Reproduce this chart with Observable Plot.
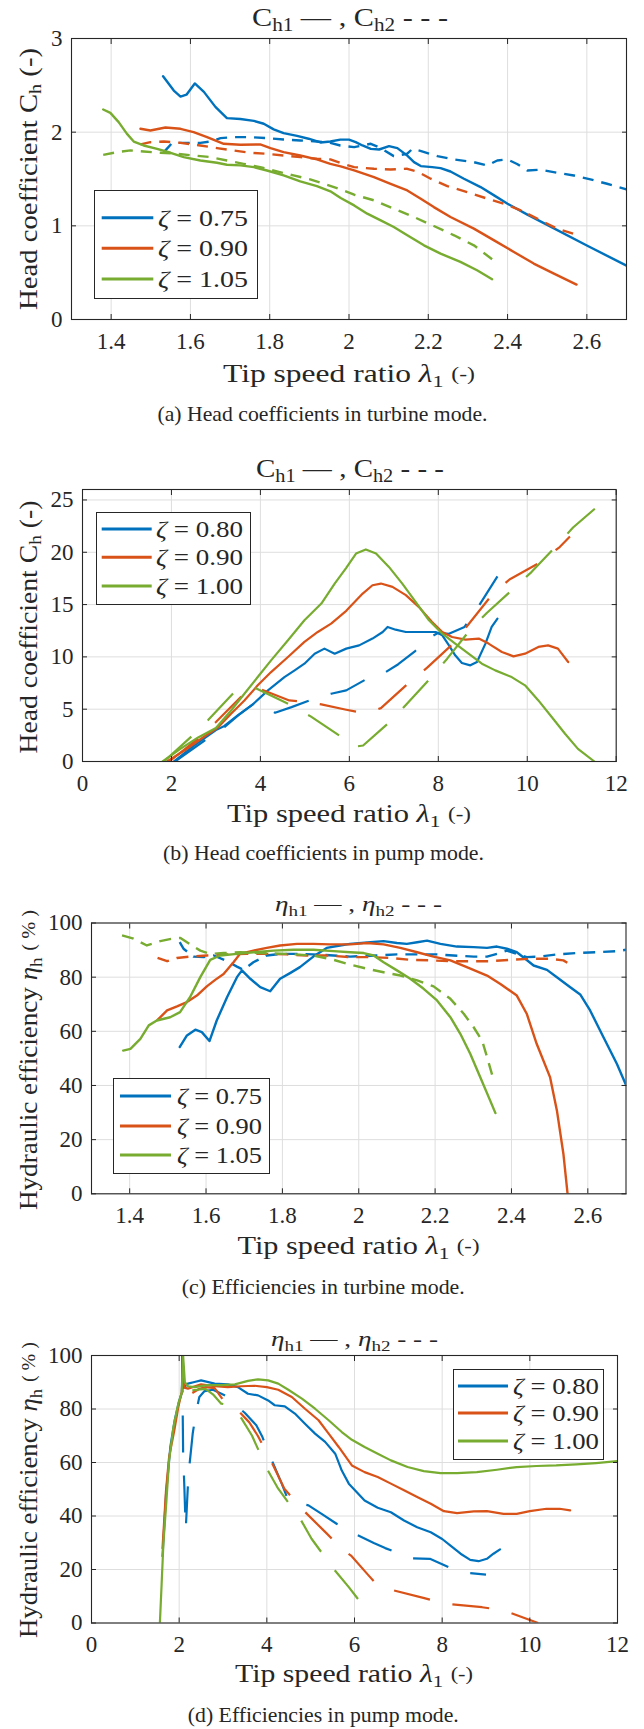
<!DOCTYPE html>
<html><head><meta charset="utf-8">
<script src="https://cdn.jsdelivr.net/npm/d3@7"></script>
<script src="https://cdn.jsdelivr.net/npm/@observablehq/plot@0.6"></script>
<style>
body{margin:0;background:#fff;}
#root{position:relative;width:644px;height:1729px;overflow:hidden;background:#fff;}
.panel{position:absolute;left:0;}
</style></head>
<body><div id="root"></div>
<script>
// ---------- colours ----------
const BLUE = "#0072BD", ORANGE = "#D95319", GREEN = "#77AC30";

// ---------- (a) head coefficients, turbine mode ----------
const aTicksX = [1.4, 1.6, 1.8, 2, 2.2, 2.4, 2.6];
const aTicksY = [0, 1, 2, 3];
const aLegend = ["0.75", "0.90", "1.05"];
const aH1_075 = [[1.531,2.597],[1.558,2.444],[1.575,2.38],[1.59,2.40],[1.611,2.52],[1.634,2.43],[1.663,2.27],[1.692,2.15],[1.726,2.14],[1.76,2.12],[1.785,2.09],[1.81,2.03],[1.835,1.99],[1.869,1.96],[1.898,1.93],[1.928,1.89],[1.953,1.90],[1.978,1.92],[2.0,1.92],[2.017,1.894],[2.034,1.858],[2.055,1.822],[2.076,1.815],[2.101,1.851],[2.122,1.83],[2.147,1.75],[2.164,1.68],[2.181,1.638],[2.21,1.627],[2.231,1.616],[2.256,1.58],[2.29,1.503],[2.332,1.414],[2.366,1.325],[2.4,1.236],[2.45,1.12],[2.5,1.01],[2.6,0.79],[2.7,0.575]];
const aH2_075 = [[1.533,1.787],[1.554,1.886],[1.583,1.886],[1.625,1.886],[1.65,1.90],[1.676,1.936],[1.709,1.947],[1.751,1.947],[1.793,1.936],[1.835,1.922],[1.877,1.911],[1.919,1.90],[1.953,1.886],[1.978,1.858],[2.013,1.84],[2.055,1.876],[2.08,1.83],[2.113,1.744],[2.147,1.77],[2.16,1.822],[2.18,1.80],[2.223,1.744],[2.265,1.709],[2.315,1.68],[2.349,1.645],[2.374,1.698],[2.4,1.709],[2.424,1.66],[2.45,1.59],[2.483,1.60],[2.525,1.567],[2.567,1.538],[2.609,1.496],[2.651,1.449],[2.7,1.39]];
const aH1_090 = [[1.474,2.036],[1.499,2.018],[1.537,2.05],[1.575,2.036],[1.608,2.0],[1.642,1.947],[1.684,1.876],[1.726,1.865],[1.776,1.869],[1.802,1.83],[1.835,1.787],[1.877,1.751],[1.919,1.709],[1.953,1.662],[1.979,1.635],[2.013,1.591],[2.063,1.52],[2.105,1.449],[2.147,1.378],[2.181,1.29],[2.214,1.2],[2.256,1.094],[2.315,0.97],[2.366,0.845],[2.416,0.721],[2.466,0.597],[2.517,0.49],[2.574,0.373]];
const aH2_090 = [[1.474,1.87],[1.499,1.893],[1.533,1.90],[1.575,1.886],[1.625,1.858],[1.667,1.83],[1.709,1.805],[1.751,1.78],[1.793,1.769],[1.835,1.751],[1.877,1.734],[1.919,1.716],[1.953,1.709],[1.979,1.67],[2.013,1.627],[2.063,1.609],[2.105,1.602],[2.147,1.609],[2.172,1.58],[2.206,1.503],[2.248,1.424],[2.298,1.36],[2.349,1.29],[2.391,1.236],[2.433,1.165],[2.483,1.059],[2.525,0.97],[2.574,0.906]];
const aH1_105 = [[1.38,2.242],[1.398,2.206],[1.419,2.107],[1.44,1.982],[1.457,1.9],[1.482,1.858],[1.516,1.822],[1.55,1.78],[1.583,1.734],[1.625,1.698],[1.667,1.673],[1.692,1.652],[1.726,1.645],[1.76,1.627],[1.793,1.591],[1.835,1.538],[1.877,1.474],[1.919,1.424],[1.953,1.368],[1.979,1.297],[2.013,1.218],[2.046,1.13],[2.08,1.059],[2.113,0.988],[2.147,0.899],[2.189,0.792],[2.231,0.703],[2.281,0.615],[2.323,0.526],[2.361,0.43]];
const aH2_105 = [[1.38,1.758],[1.415,1.787],[1.449,1.805],[1.482,1.794],[1.524,1.78],[1.566,1.769],[1.608,1.751],[1.65,1.734],[1.692,1.698],[1.734,1.662],[1.776,1.627],[1.818,1.581],[1.86,1.538],[1.902,1.496],[1.944,1.439],[1.979,1.389],[2.013,1.332],[2.063,1.272],[2.113,1.183],[2.164,1.094],[2.214,0.998],[2.265,0.899],[2.315,0.792],[2.361,0.643]];

// ---------- (b) head coefficients, pump mode ----------
const bTicksX = [0, 2, 4, 6, 8, 10, 12];
const bTicksY = [0, 5, 10, 15, 20, 25];
const bLegend = ["0.80", "0.90", "1.00"];
const bH1_080 = [[2.05,0],[2.5,1.5],[3.0,3.0],[3.19,3.4],[3.49,4.4],[3.83,5.46],[4.17,6.8],[4.54,8.07],[4.77,8.71],[4.99,9.35],[5.22,10.3],[5.44,10.79],[5.67,10.31],[5.93,10.79],[6.22,11.1],[6.52,11.75],[6.75,12.38],[6.86,12.86],[7.04,12.6],[7.27,12.38],[7.64,12.38],[7.94,12.38],[8.09,12.06],[8.24,11.1],[8.38,10.15],[8.53,9.42],[8.72,9.19],[8.87,9.51],[9.06,11.27],[9.2,12.86],[9.33,13.66]];
const bH2_080 = [[2.08,0],[2.77,2.07],[3.19,3.29],[3.5,4.4],[3.83,5.46],[3.95,5.55],[4.33,4.66],[4.7,5.2],[5.07,5.78],[5.59,6.48],[5.93,6.8],[6.36,7.82],[6.82,8.55],[7.1,9.3],[7.48,10.56],[7.75,11.7],[8.0,12.3],[8.24,12.2],[8.59,12.86],[8.9,14.8],[9.33,17.7]];
const bH1_090 = [[1.9,0],[2.29,1.05],[2.74,2.39],[3.04,3.22],[3.34,4.56],[3.64,5.84],[3.94,7.28],[4.24,8.55],[4.62,9.99],[4.99,11.43],[5.29,12.38],[5.59,13.18],[5.93,14.4],[6.3,16.05],[6.52,16.85],[6.71,17.01],[6.97,16.69],[7.27,15.9],[7.56,14.78],[7.86,13.34],[8.09,12.38],[8.31,11.9],[8.61,11.65],[8.91,11.75],[9.13,11.27],[9.43,10.47],[9.69,10.05],[9.95,10.31],[10.25,10.95],[10.47,11.1],[10.69,10.79],[10.92,9.51]];
const bH2_090 = [[1.95,0],[2.59,2.17],[3.0,3.77],[3.56,6.16],[3.95,7.0],[4.65,5.84],[5.0,5.7],[5.37,5.46],[5.93,4.95],[6.21,4.72],[6.45,4.7],[6.71,5.1],[7.34,7.53],[7.75,8.97],[8.35,11.33],[8.68,13.12],[9.2,15.9],[9.6,17.4],[10.25,18.93],[10.73,20.5],[10.96,21.5]];
const bH1_100 = [[1.8,0],[2.2,1.2],[2.6,2.3],[3.0,3.2],[3.34,4.88],[3.64,6.48],[3.94,8.08],[4.24,9.67],[4.62,11.59],[4.99,13.5],[5.37,15.1],[5.67,17.0],[5.93,18.5],[6.15,19.88],[6.37,20.27],[6.6,19.88],[6.89,18.6],[7.19,17.0],[7.49,15.26],[7.79,13.5],[8.09,12.22],[8.38,11.27],[8.68,10.3],[8.98,9.35],[9.28,8.71],[9.65,8.07],[9.95,7.28],[10.25,5.84],[10.55,4.25],[10.85,2.65],[11.14,1.21],[11.51,0]];
const bH2_100 = [[1.83,0],[2.45,2.39],[2.83,3.99],[3.41,6.61],[3.75,7.1],[3.92,6.96],[4.65,5.46],[5.13,4.31],[5.83,2.33],[6.1,1.4],[6.31,1.53],[6.93,3.86],[7.28,5.46],[7.85,8.08],[8.2,9.83],[8.72,12.61],[9.09,14.2],[9.71,16.6],[10.1,18.13],[10.67,20.68],[11.03,22.37],[11.66,24.67]];

// ---------- (c) efficiencies, turbine mode ----------
const cTicksX = [1.4, 1.6, 1.8, 2, 2.2, 2.4, 2.6];
const cTicksY = [0, 20, 40, 60, 80, 100];
const cLegend = ["0.75", "0.90", "1.05"];
const cH1_075 = [[1.531,54.2],[1.55,58.5],[1.572,60.6],[1.589,59.7],[1.609,56.4],[1.628,64.0],[1.655,72.6],[1.681,80.0],[1.694,82.5],[1.716,79.4],[1.742,76.3],[1.768,74.8],[1.794,79.4],[1.82,81.5],[1.846,83.7],[1.881,87.6],[1.916,90.8],[1.951,91.7],[1.977,92.3],[2.031,92.9],[2.065,93.3],[2.1,92.6],[2.126,92.3],[2.153,92.9],[2.179,93.5],[2.214,92.3],[2.257,91.3],[2.301,91.1],[2.336,90.8],[2.362,91.3],[2.388,90.5],[2.414,89.2],[2.436,86.8],[2.458,84.3],[2.493,82.7],[2.519,80.0],[2.554,76.3],[2.58,73.6],[2.606,67.7],[2.641,57.8],[2.676,48.0],[2.7,40.2]];
const cH2_075 = [[1.531,92.9],[1.541,90.5],[1.567,87.6],[1.594,87.4],[1.62,88.0],[1.655,85.9],[1.681,83.9],[1.698,82.7],[1.724,85.5],[1.759,88.0],[1.794,88.6],[1.838,88.6],[1.881,88.4],[1.934,88.0],[1.977,87.6],[2.048,88.0],[2.1,88.4],[2.153,88.4],[2.205,88.4],[2.248,88.0],[2.301,87.6],[2.336,87.6],[2.362,88.6],[2.388,89.8],[2.414,88.6],[2.44,87.4],[2.475,87.6],[2.519,88.4],[2.571,88.9],[2.623,89.2],[2.676,89.6],[2.7,90.1]];
const cH1_090 = [[1.473,64.2],[1.498,67.7],[1.524,69.2],[1.55,70.8],[1.576,73.2],[1.602,76.6],[1.624,79.0],[1.646,81.2],[1.672,85.5],[1.689,88.6],[1.724,89.8],[1.759,90.8],[1.794,91.7],[1.838,92.3],[1.881,92.3],[1.925,92.1],[1.978,92.1],[2.022,92.6],[2.065,92.1],[2.109,90.8],[2.153,89.2],[2.196,87.6],[2.24,86.2],[2.283,83.7],[2.336,80.6],[2.371,77.5],[2.414,73.2],[2.44,66.5],[2.466,55.4],[2.501,43.1],[2.519,30.8],[2.536,14.8],[2.547,0]];
const cH2_090 = [[1.473,87.1],[1.498,85.9],[1.524,87.1],[1.559,87.6],[1.602,88.0],[1.655,88.4],[1.707,88.6],[1.759,88.6],[1.811,88.4],[1.864,88.0],[1.916,88.0],[1.978,87.4],[2.031,87.4],[2.083,87.1],[2.135,86.4],[2.187,86.2],[2.24,85.9],[2.292,85.9],[2.344,85.9],[2.397,86.4],[2.449,86.8],[2.501,86.8],[2.536,86.2],[2.554,84.7]];
const cH1_105 = [[1.383,52.9],[1.402,53.5],[1.428,57.2],[1.45,62.2],[1.471,64.0],[1.506,65.2],[1.532,67.1],[1.558,72.6],[1.585,80.0],[1.611,86.4],[1.637,88.0],[1.681,88.6],[1.724,89.2],[1.777,89.8],[1.829,90.1],[1.881,90.1],[1.934,89.6],[1.978,89.2],[2.013,88.9],[2.039,88.0],[2.065,85.5],[2.1,82.5],[2.135,79.4],[2.17,75.7],[2.205,71.4],[2.24,65.2],[2.266,59.1],[2.292,51.7],[2.318,43.1],[2.344,34.5],[2.358,29.8]];
const cH2_105 = [[1.38,95.4],[1.41,94.2],[1.445,91.7],[1.48,93.3],[1.511,94.2],[1.533,94.5],[1.559,92.1],[1.585,89.8],[1.611,88.6],[1.646,88.9],[1.69,89.2],[1.75,88.9],[1.811,88.6],[1.881,88.0],[1.934,86.4],[1.978,84.6],[2.022,83.1],[2.065,81.8],[2.109,80.6],[2.153,78.8],[2.196,76.6],[2.24,72.0],[2.275,66.5],[2.301,61.5],[2.323,56.6],[2.336,50.5],[2.351,43.1]];

// ---------- (d) efficiencies, pump mode ----------
const dTicksX = [0, 2, 4, 6, 8, 10, 12];
const dTicksY = [0, 20, 40, 60, 80, 100];
const dLegend = ["0.80", "0.90", "1.00"];
const dH1_080 = [[1.62,25],[1.7,48],[1.8,66],[1.9,76],[2.0,83],[2.06,86],[2.08,100],[2.11,88],[2.2,89.5],[2.35,90.1],[2.5,90.7],[2.81,89.5],[3.11,89.2],[3.34,88.2],[3.57,85.7],[3.8,85.1],[4.03,83.2],[4.18,81.4],[4.41,81.0],[4.64,78.3],[4.87,74.5],[5.1,70.8],[5.33,67.7],[5.56,63.3],[5.71,57.0],[5.87,52.1],[6.23,45.8],[6.53,43.1],[6.83,41.4],[7.13,38.3],[7.43,35.8],[7.74,33.9],[8.0,31.4],[8.19,28.9],[8.42,25.9],[8.64,23.6],[8.83,23.1],[9.02,24.0],[9.17,25.9],[9.32,27.5]];
const dH2_080 = [[2.07,100],[2.08,80],[2.09,64],[2.12,50],[2.15,35],[2.18,45],[2.21,55],[2.31,71],[2.39,79],[2.46,84.5],[2.58,86.7],[2.77,87.2],[2.88,86.4],[3.05,85],[3.21,82.6],[3.5,78.5],[3.76,73.9],[3.9,69.5],[4.0,65.2],[4.34,52.1],[4.45,47.5],[4.57,45.2],[4.95,44.0],[5.25,40.8],[5.6,37],[5.92,34.0],[6.44,29.9],[6.7,28],[6.91,26.7],[7.3,24.2],[7.72,24.0],[8.0,22],[8.19,20.5],[8.42,19.0],[9.0,18.1]];
const dH1_090 = [[1.62,28],[1.7,49.6],[1.77,62.0],[1.89,72.0],[1.98,80.7],[2.06,86.4],[2.09,96],[2.12,88],[2.2,87.6],[2.5,89.2],[2.81,88.5],[3.11,88.2],[3.42,88.5],[3.72,88.7],[4.0,88.2],[4.26,87.2],[4.57,84.5],[4.87,80.1],[5.18,75.8],[5.41,70.8],[5.64,65.8],[5.94,58.9],[6.23,56.4],[6.53,54.6],[6.83,52.1],[7.13,49.6],[7.43,47.1],[7.74,44.6],[8.04,41.8],[8.34,41.1],[8.72,41.7],[9.02,41.8],[9.4,40.8],[9.7,40.8],[10.0,41.8],[10.38,42.7],[10.68,42.7],[10.92,42.1]];
const dH2_090 = [[2.3,86],[2.45,87.5],[2.6,88.2],[2.81,87.8],[3.04,82.5],[3.34,79.5],[3.6,75],[3.79,70.1],[4.09,60.8],[4.4,50.2],[4.76,43.3],[5.37,33.4],[5.75,27.1],[5.92,25.2],[6.32,17.8],[6.5,14.5],[6.75,12.8],[7.57,9.4],[8.08,7.2],[8.91,5.9],[9.4,4.7],[10.19,0]];
const dH1_100 = [[1.56,0],[1.6,14.6],[1.64,29.6],[1.71,45.8],[1.77,60.8],[1.87,73.3],[1.98,82.0],[2.06,86],[2.09,100],[2.13,90],[2.2,88.5],[2.35,88.2],[2.65,88.9],[2.96,88.9],[3.27,89.2],[3.57,90.5],[3.8,91.1],[4.03,90.7],[4.26,89.5],[4.49,87.2],[4.8,83.9],[5.1,80.1],[5.41,75.8],[5.71,71.4],[5.94,68.5],[6.23,65.8],[6.53,63.3],[6.83,60.8],[7.21,58.3],[7.58,56.8],[7.96,56.0],[8.34,56.0],[8.79,56.4],[9.25,57.3],[9.7,58.3],[10.15,58.7],[10.6,58.9],[11.06,59.3],[11.51,59.8],[12.0,60.5]];
const dH2_100 = [[2.3,87],[2.6,87.5],[2.77,85.5],[2.96,82.0],[3.15,81.4],[3.38,77.6],[3.66,70.1],[4.0,57.7],[4.26,50.2],[4.76,39.0],[5.02,31.5],[5.52,20.3],[5.87,13.4],[6.37,2.8]];

// ---------- build ----------
const root = document.getElementById("root");
const rows = (pairs) => pairs.map(([x, y]) => ({x, y}));
const FONT = '"Liberation Serif", "Times New Roman", Times, serif';
const INK = "#262626";
const fmt = d3.format("~g");

function makePanel(cfg) {
  const lines = cfg.series.map(s => Plot.line(rows(s.data), {
    x: "x", y: "y", stroke: s.color, strokeWidth: cfg.sw,
    strokeDasharray: s.dashed ? cfg.dash : null, strokeLinejoin: "round",
    strokeLinecap: s.dashed ? "butt" : "round", clip: true
  }));
  const chart = Plot.plot({
    width: 644, height: cfg.height,
    marginTop: cfg.mt, marginBottom: cfg.mb, marginLeft: cfg.ml, marginRight: cfg.mr,
    x: {domain: cfg.xd}, y: {domain: cfg.yd},
    style: {fontFamily: FONT, fontSize: "23px", color: INK, background: "transparent", overflow: "visible"},
    marks: [
      Plot.gridX(cfg.tx, {stroke: "#dedede", strokeOpacity: 1, strokeWidth: 1}),
      Plot.gridY(cfg.ty, {stroke: "#dedede", strokeOpacity: 1, strokeWidth: 1}),
      ...lines,
      Plot.frame({stroke: INK, strokeWidth: 1.1}),
      Plot.axisX(cfg.tx, {anchor: "bottom", tickSize: -5, tickPadding: 18, label: null, tickFormat: fmt}),
      Plot.axisX(cfg.tx, {anchor: "top", tickSize: -5, tickFormat: () => "", label: null}),
      Plot.axisY(cfg.ty, {anchor: "left", tickSize: -5, tickPadding: 14, label: null, tickFormat: fmt}),
      Plot.axisY(cfg.ty, {anchor: "right", tickSize: -5, tickFormat: () => "", label: null})
    ]
  });
  chart.classList.add("panel");
  chart.style.top = cfg.top + "px";
  chart.style.position = "absolute";
  root.appendChild(chart);
}

const ser = (h1a, h2a, h1b, h2b, h1c, h2c) => [
  {data: h1a, color: BLUE}, {data: h2a, color: BLUE, dashed: true},
  {data: h1b, color: ORANGE}, {data: h2b, color: ORANGE, dashed: true},
  {data: h1c, color: GREEN}, {data: h2c, color: GREEN, dashed: true}
];

makePanel({top: 0, height: 370, mt: 38, mb: 51, ml: 71, mr: 18, xd: [1.3, 2.7], yd: [0, 3], tx: aTicksX, ty: aTicksY, sw: 2.4, dash: "11,8",
  series: ser(aH1_075, aH2_075, aH1_090, aH2_090, aH1_105, aH2_105)});
makePanel({top: 440, height: 370, mt: 49, mb: 49, ml: 82, mr: 28.3, xd: [0, 12], yd: [0, 26], tx: bTicksX, ty: bTicksY, sw: 2.2, dash: "37,23",
  series: ser(bH1_080, bH2_080, bH1_090, bH2_090, bH1_100, bH2_100)});
makePanel({top: 880, height: 350, mt: 42.5, mb: 36.7, ml: 91, mr: 18.5, xd: [1.3, 2.7], yd: [0, 100], tx: cTicksX, ty: cTicksY, sw: 2.4, dash: "12,8",
  series: ser(cH1_075, cH2_075, cH1_090, cH2_090, cH1_105, cH2_105)});
makePanel({top: 1310, height: 350, mt: 45, mb: 37.5, ml: 91, mr: 27, xd: [0, 12], yd: [0, 100], tx: dTicksX, ty: dTicksY, sw: 2.2, dash: "37,23",
  series: ser(dH1_080, dH2_080, dH1_090, dH2_090, dH1_100, dH2_100)});

// ---------- text overlay (titles, axis labels, captions, legends) ----------
const ov = d3.select(root).append("svg")
  .attr("width", 644).attr("height", 1729)
  .style("position", "absolute").style("left", "0px").style("top", "0px")
  .attr("font-family", FONT).attr("fill", INK);

// parts: [text, kind] with kind "" | "sub" | "it" | "small"
function txt(parts, x, y, size, len, opts = {}) {
  const t = ov.append("text")
    .attr("x", x).attr("y", y)
    .attr("font-size", size)
    .attr("text-anchor", opts.anchor || "middle")
    .attr("dominant-baseline", "central")
    .attr("textLength", len).attr("lengthAdjust", "spacingAndGlyphs")
    .style("white-space", "pre");
  if (opts.rotate) t.attr("transform", `rotate(-90 ${x} ${y})`);
  let shifted = false;
  for (const [s, kind] of parts) {
    const sp = t.append("tspan").text(s);
    if (kind === "sub") {
      sp.attr("font-size", size * 0.7);
      if (!shifted) { sp.attr("dy", size * 0.3); shifted = true; }
    } else {
      if (shifted) { sp.attr("dy", -size * 0.3); shifted = false; }
      if (kind === "it") sp.attr("font-style", "italic");
      if (kind === "small") sp.attr("font-size", size * 0.75);
    }
  }
}

const tC = [["C", ""], ["h1", "sub"], [" — , C", ""], ["h2", "sub"], [" - - -", ""]];
const tE = [["η", "it"], ["h1", "sub"], [" — , ", ""], ["η", "it"], ["h2", "sub"], [" - - -", ""]];
txt(tC, 350, 17, 26, 196);
txt(tC, 350, 468, 26, 188);
txt(tE, 358.5, 903, 22, 167);
txt(tE, 354.5, 1338, 22, 167);

const xl = [["Tip speed ratio ", ""], ["λ", "it"], ["1", "sub"], [" ", ""], ["(-)", "small"]];
txt(xl, 349, 373, 25, 252);
txt(xl, 349, 813, 25, 244);
txt(xl, 358.5, 1245, 25, 242);
txt(xl, 354, 1673, 25, 238);

const ylC = [["Head coefficient C", ""], ["h", "sub"], [" (-)", ""]];
const ylE = [["Hydraulic efficiency ", ""], ["η", "it"], ["h", "sub"], [" ", ""], ["( % )", "small"]];
txt(ylC, 27.5, 179, 25, 262, {rotate: true});
txt(ylC, 27.5, 627, 25, 253, {rotate: true});
txt(ylE, 28, 1060, 25, 300, {rotate: true});
txt(ylE, 28, 1490, 25, 296, {rotate: true});

txt([["(a) Head coefficients in turbine mode.", ""]], 322.5, 414, 21.5, 330);
txt([["(b) Head coefficients in pump mode.", ""]], 323.5, 853, 21.5, 321);
txt([["(c) Efficiencies in turbine mode.", ""]], 323.3, 1287, 21.5, 283);
txt([["(d) Efficiencies in pump mode.", ""]], 323.3, 1715, 21.5, 271);

function legend(L, labels) {
  ov.append("rect").attr("x", L.x + 0.5).attr("y", L.y + 0.5).attr("width", L.w).attr("height", L.h)
    .attr("fill", "#fff").attr("stroke", INK).attr("stroke-width", 1);
  const colors = [BLUE, ORANGE, GREEN];
  labels.forEach((lab, i) => {
    const y = L.rows[i];
    ov.append("line").attr("x1", L.l0).attr("x2", L.l1).attr("y1", y).attr("y2", y)
      .attr("stroke", colors[i]).attr("stroke-width", 3);
    txt([["ζ", "it"], [" = " + lab, ""]], L.tx, y, 23, L.tw, {anchor: "start"});
  });
}
legend({x: 94, y: 190, w: 163, h: 108, rows: [217.7, 248.3, 279], l0: 101.7, l1: 153.3, tx: 158, tw: 90}, aLegend);
legend({x: 96, y: 512, w: 154, h: 92, rows: [529, 557.3, 586], l0: 101.7, l1: 151.7, tx: 156, tw: 87}, bLegend);
legend({x: 113, y: 1078, w: 156, h: 95, rows: [1096, 1126, 1155], l0: 120, l1: 171, tx: 177, tw: 85}, cLegend);
legend({x: 453, y: 1369, w: 150, h: 90, rows: [1386, 1413, 1441], l0: 458, l1: 508, tx: 513, tw: 86}, dLegend);
</script>
</body></html>
